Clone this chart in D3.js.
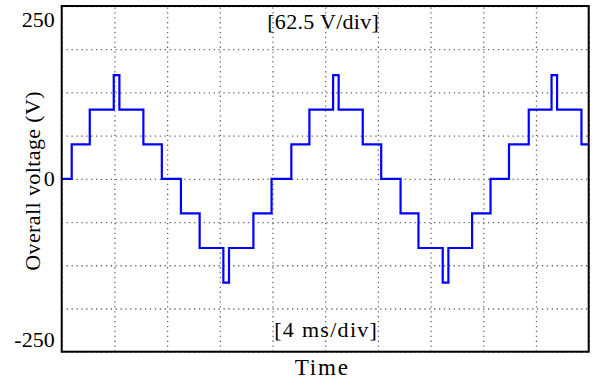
<!DOCTYPE html>
<html>
<head>
<meta charset="utf-8">
<script src="https://cdn.jsdelivr.net/npm/d3@7"></script>
<style>
  body { margin: 0; background: #fff; }
  svg text { font-family: "Liberation Serif", "Times New Roman", serif; fill: #000; }
</style>
</head>
<body>
<div id="chart-area"></div>
<script>
// step waveform: switching instants (ms) and level held after each one (V)
const stepTimes = [0, 0.76, 2.13, 3.95, 4.38, 6.20, 7.60, 9.05, 10.47, 12.27, 12.70, 14.55, 15.93,
                   17.43, 18.80, 20.60, 21.02, 22.85, 24.25, 25.72, 27.08, 28.92, 29.35, 31.15, 32.55,
                   33.95, 35.45, 37.18, 37.60, 39.45, 40]
const stepLevels = [0, 50, 100, 150, 100, 50, 0, -50, -100, -150, -100, -50, 0,
                    50, 100, 150, 100, 50, 0, -50, -100, -150, -100, -50, 0,
                    50, 100, 150, 100, 50, 50]
const yTickLabels = [-250, 0, 250]
const xGridTicks = [0, 4, 8, 12, 16, 20, 24, 28, 32, 36, 40]
const yGridTicks = [-250, -187.5, -125, -62.5, 0, 62.5, 125, 187.5, 250]

const MARGIN = {LEFT: 61.7, RIGHT: 3.3, TOP: 6, BOTTOM: 32.3}
const WIDTH = 592 - MARGIN.LEFT - MARGIN.RIGHT
const HEIGHT = 384 - MARGIN.TOP - MARGIN.BOTTOM

const svg = d3.select("#chart-area").append("svg")
    .attr("width", 592)
    .attr("height", 384)

const g = svg.append("g")
    .attr("transform", `translate(${MARGIN.LEFT}, ${MARGIN.TOP})`)

const x = d3.scaleLinear().domain([0, 40]).range([0, WIDTH])
const y = d3.scaleLinear().domain([-250, 250]).range([HEIGHT, 0])

// dotted grid
g.append("g")
    .attr("class", "x grid")
    .attr("transform", `translate(0, ${HEIGHT})`)
    .call(d3.axisBottom(x).tickValues(xGridTicks).tickSize(-HEIGHT).tickFormat(""))
g.append("g")
    .attr("class", "y grid")
    .call(d3.axisLeft(y).tickValues(yGridTicks).tickSize(-WIDTH).tickFormat(""))
g.selectAll(".grid .domain").remove()
g.selectAll(".grid line")
    .attr("stroke", "#666")
    .attr("stroke-width", 1.3)
    .attr("stroke-dasharray", "1.3,3.6")

// y tick labels (plain hyphen, like the original)
const yAxis = g.append("g")
    .attr("class", "y axis")
    .call(d3.axisLeft(y).tickValues(yTickLabels).tickSize(0).tickPadding(7)
        .tickFormat(d => String(d)))
yAxis.select(".domain").remove()
yAxis.selectAll("text")
    .attr("font-size", "22px")
    .attr("font-family", "Liberation Serif")
    .attr("dy", d => d === 250 ? "0.95em" : d === -250 ? "-0.25em" : "0.32em")

// waveform
const line = d3.line()
    .x((d, i) => x(stepTimes[i]))
    .y(d => y(d))
    .curve(d3.curveStepAfter)

g.append("path")
    .datum(stepLevels)
    .attr("d", line)
    .attr("fill", "none")
    .attr("stroke", "#0000ff")
    .attr("stroke-width", 2.2)

// frame
g.append("rect")
    .attr("width", WIDTH)
    .attr("height", HEIGHT)
    .attr("fill", "none")
    .attr("stroke", "#000")
    .attr("stroke-width", 2)

// scale notes
g.append("text")
    .attr("x", WIDTH / 2 - 2)
    .attr("y", 23)
    .attr("font-size", "22px")
    .attr("letter-spacing", "0.3px")
    .attr("text-anchor", "middle")
    .text("[62.5 V/div]")

g.append("text")
    .attr("x", WIDTH / 2 + 1)
    .attr("y", HEIGHT - 15)
    .attr("font-size", "22px")
    .attr("letter-spacing", "1.3px")
    .attr("text-anchor", "middle")
    .text("[4 ms/div]")

// X label
g.append("text")
    .attr("x", WIDTH / 2 - 3)
    .attr("y", HEIGHT + 23)
    .attr("font-size", "23px")
    .attr("letter-spacing", "1.8px")
    .attr("text-anchor", "middle")
    .text("Time")

// Y label
g.append("text")
    .attr("x", -(HEIGHT / 2) - 2)
    .attr("y", -22)
    .attr("font-size", "22px")
    .attr("letter-spacing", "0.4px")
    .attr("text-anchor", "middle")
    .attr("transform", "rotate(-90)")
    .text("Overall voltage (V)")
</script>
</body>
</html>
